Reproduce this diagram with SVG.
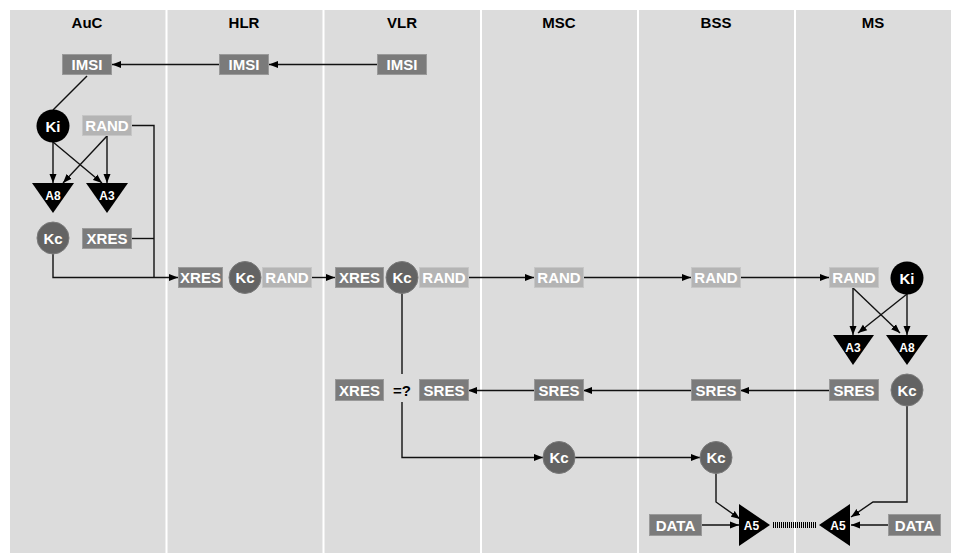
<svg xmlns="http://www.w3.org/2000/svg" width="955" height="553" viewBox="0 0 955 553">
<defs>
<style>
.bg{fill:#dcdcdc}
.div{stroke:#ffffff;stroke-width:2}
.title{font-family:"Liberation Sans",Arial,sans-serif;font-weight:bold;font-size:15px;fill:#000;text-anchor:middle}
.lbl{font-family:"Liberation Sans",Arial,sans-serif;font-weight:bold;font-size:15px;fill:#fff;text-anchor:middle}
.tl{font-family:"Liberation Sans",Arial,sans-serif;font-weight:bold;font-size:12px;fill:#fff;text-anchor:middle}
.dk{fill:#7b7b7b;stroke:#9a9a9a;stroke-width:1}
.lt{fill:#b4b4b4;stroke:#c6c6c6;stroke-width:1}
.kc{fill:#636363;stroke:#7a7a7a;stroke-width:1}
.ki{fill:#000}
.tri{fill:#000}
.ln{fill:none;stroke:#111;stroke-width:1.4}
.ar{fill:none;stroke:#111;stroke-width:1.4;marker-end:url(#ah)}
</style>
<marker id="ah" markerUnits="userSpaceOnUse" markerWidth="10" markerHeight="8" refX="9" refY="4" orient="auto">
<path d="M0,0.5 L9,4 L0,7.5 z" fill="#000"/>
</marker>
</defs>
<rect class="bg" x="10" y="10" width="941" height="543"/>
<g id="dividers">
<line class="div" x1="166.5" y1="10" x2="166.5" y2="553"/>
<line class="div" x1="323.5" y1="10" x2="323.5" y2="553"/>
<line class="div" x1="481" y1="10" x2="481" y2="553"/>
<line class="div" x1="638" y1="10" x2="638" y2="553"/>
<line class="div" x1="795" y1="10" x2="795" y2="553"/>
</g>
<g id="titles">
<text class="title" x="87" y="27.5">AuC</text>
<text class="title" x="244" y="27.5">HLR</text>
<text class="title" x="402" y="27.5">VLR</text>
<text class="title" x="559" y="27.5">MSC</text>
<text class="title" x="716" y="27.5">BSS</text>
<text class="title" x="873" y="27.5">MS</text>
</g>
<g id="connectors">
<line class="ar" x1="377" y1="64.5" x2="269" y2="64.5"/>
<line class="ar" x1="219" y1="64.5" x2="112" y2="64.5"/>
<line class="ln" x1="87" y1="76" x2="53" y2="110"/>
<line class="ar" x1="53" y1="142" x2="53" y2="183"/>
<line class="ar" x1="53" y1="142" x2="102" y2="183"/>
<line class="ar" x1="107" y1="136" x2="107" y2="183"/>
<line class="ar" x1="107" y1="136" x2="63" y2="183"/>
<polyline class="ln" points="132,125.5 154,125.5 154,277"/>
<line class="ln" x1="131" y1="238.5" x2="154" y2="238.5"/>
<polyline class="ar" points="53,254 53,277.5 178,277.5"/>
<line class="ar" x1="311" y1="277.5" x2="335" y2="277.5"/>
<line class="ar" x1="468" y1="277.5" x2="534" y2="277.5"/>
<line class="ar" x1="583" y1="277.5" x2="691" y2="277.5"/>
<line class="ar" x1="740" y1="277.5" x2="829" y2="277.5"/>
<line class="ar" x1="853" y1="288" x2="853" y2="335"/>
<line class="ar" x1="853" y1="288" x2="900" y2="333"/>
<line class="ar" x1="907" y1="294" x2="907" y2="335"/>
<line class="ar" x1="907" y1="294" x2="858" y2="333"/>
<line class="ar" x1="829" y1="390.5" x2="740" y2="390.5"/>
<line class="ar" x1="691" y1="390.5" x2="583" y2="390.5"/>
<line class="ar" x1="534" y1="390.5" x2="468" y2="390.5"/>
<line class="ln" x1="402" y1="293" x2="402" y2="374"/>
<polyline class="ar" points="402,402 402,457.5 543,457.5"/>
<line class="ar" x1="575" y1="457.5" x2="700" y2="457.5"/>
<polyline class="ar" points="716,473 716,502 740,519"/>
<line class="ar" x1="702" y1="525" x2="739" y2="525"/>
<polyline class="ar" points="907,406 907,502 873,502 851,517"/>
<line class="ar" x1="888" y1="525" x2="851" y2="525"/>
<line x1="773" y1="525" x2="816" y2="525" stroke="#000" stroke-width="6" stroke-dasharray="1 1"/>
</g>
<g id="auc-imsi"><rect class="dk" x="62.5" y="54.5" width="49" height="20"/><text class="lbl" x="87" y="70">IMSI</text></g>
<g id="hlr-imsi"><rect class="dk" x="219.5" y="54.5" width="49" height="20"/><text class="lbl" x="244" y="70">IMSI</text></g>
<g id="vlr-imsi"><rect class="dk" x="377.5" y="54.5" width="49" height="20"/><text class="lbl" x="402" y="70">IMSI</text></g>
<g id="auc-ki"><circle class="ki" cx="53" cy="126" r="16.5"/><text class="lbl" x="53" y="131.5">Ki</text></g>
<g id="auc-rand"><rect class="lt" x="82.5" y="115.5" width="49" height="20"/><text class="lbl" x="107" y="131">RAND</text></g>
<g id="auc-a8"><polygon class="tri" points="32,183 74,183 53,213"/><text class="tl" x="53" y="200">A8</text></g>
<g id="auc-a3"><polygon class="tri" points="86,183 128,183 107,213"/><text class="tl" x="107" y="200">A3</text></g>
<g id="auc-kc"><circle class="kc" cx="53" cy="238" r="16"/><text class="lbl" x="53" y="243.5">Kc</text></g>
<g id="auc-xres"><rect class="dk" x="82.5" y="228.5" width="49" height="20"/><text class="lbl" x="107" y="244">XRES</text></g>
<g id="hlr-triplet">
<rect class="dk" x="178.5" y="267.5" width="44" height="20"/><text class="lbl" x="200.5" y="283">XRES</text>
<rect class="lt" x="262.5" y="267.5" width="49" height="20"/><text class="lbl" x="287" y="283">RAND</text>
<circle class="kc" cx="245" cy="277.5" r="16"/><text class="lbl" x="245" y="283">Kc</text>
</g>
<g id="vlr-triplet">
<rect class="dk" x="335.5" y="267.5" width="48" height="20"/><text class="lbl" x="359.5" y="283">XRES</text>
<rect class="lt" x="419.5" y="267.5" width="49" height="20"/><text class="lbl" x="444" y="283">RAND</text>
<circle class="kc" cx="402" cy="277.5" r="16"/><text class="lbl" x="402" y="283">Kc</text>
</g>
<g id="msc-rand"><rect class="lt" x="534.5" y="267.5" width="49" height="20"/><text class="lbl" x="559" y="283">RAND</text></g>
<g id="bss-rand"><rect class="lt" x="691.5" y="267.5" width="49" height="20"/><text class="lbl" x="716" y="283">RAND</text></g>
<g id="ms-rand"><rect class="lt" x="829.5" y="267.5" width="49" height="20"/><text class="lbl" x="854" y="283">RAND</text></g>
<g id="ms-ki"><circle class="ki" cx="907" cy="278" r="16.5"/><text class="lbl" x="907" y="283.5">Ki</text></g>
<g id="ms-a3"><polygon class="tri" points="833,335 874,335 853,365"/><text class="tl" x="853" y="352">A3</text></g>
<g id="ms-a8"><polygon class="tri" points="886,335 928,335 907,365"/><text class="tl" x="907" y="352">A8</text></g>
<g id="ms-sres"><rect class="dk" x="829.5" y="379.5" width="49" height="21"/><text class="lbl" x="854" y="395.5">SRES</text></g>
<g id="ms-kc"><circle class="kc" cx="907" cy="390" r="16"/><text class="lbl" x="907" y="395.5">Kc</text></g>
<g id="bss-sres"><rect class="dk" x="691.5" y="379.5" width="49" height="21"/><text class="lbl" x="716" y="395.5">SRES</text></g>
<g id="msc-sres"><rect class="dk" x="534.5" y="379.5" width="49" height="21"/><text class="lbl" x="559" y="395.5">SRES</text></g>
<g id="vlr-sres"><rect class="dk" x="419.5" y="379.5" width="49" height="21"/><text class="lbl" x="444" y="395.5">SRES</text></g>
<g id="vlr-xres"><rect class="dk" x="335.5" y="379.5" width="48" height="21"/><text class="lbl" x="359.5" y="395.5">XRES</text></g>
<g id="compare"><text class="title" x="402" y="395.5">=?</text></g>
<g id="msc-kc"><circle class="kc" cx="559" cy="457.5" r="16"/><text class="lbl" x="559" y="463">Kc</text></g>
<g id="bss-kc"><circle class="kc" cx="716" cy="457.5" r="16"/><text class="lbl" x="716" y="463">Kc</text></g>
<g id="bss-data"><rect class="dk" x="649.5" y="514.5" width="52" height="21"/><text class="lbl" x="675.5" y="530.5">DATA</text></g>
<g id="bss-a5"><polygon class="tri" points="739,504 770,525 739,546"/><text class="tl" x="751.5" y="529.5">A5</text></g>
<g id="ms-a5"><polygon class="tri" points="850,504 819,525 850,546"/><text class="tl" x="838" y="529.5">A5</text></g>
<g id="ms-data"><rect class="dk" x="888.5" y="514.5" width="52" height="21"/><text class="lbl" x="914.5" y="530.5">DATA</text></g>
</svg>
